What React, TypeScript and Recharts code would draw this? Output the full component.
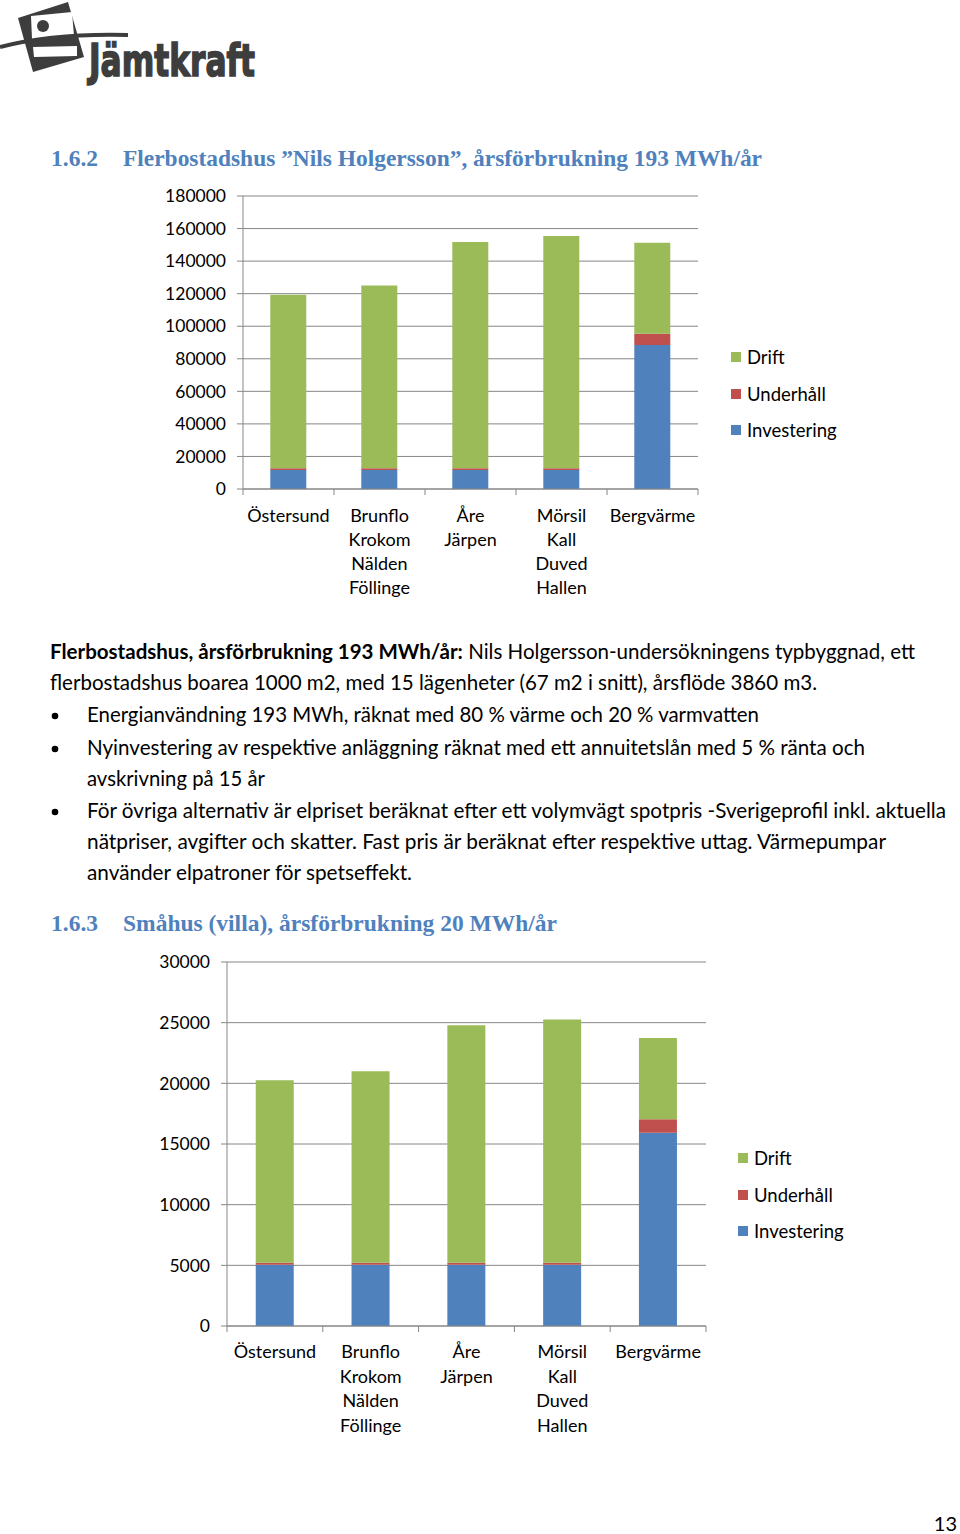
import React from 'react';
import { BarChart, Bar, XAxis, YAxis, CartesianGrid, Legend } from 'recharts';

// ---------- Data ----------
const categories = ['Östersund', 'Brunflo Krokom Nälden Föllinge', 'Åre Järpen', 'Mörsil Kall Duved Hallen', 'Bergvärme'];
const categoryLines = [
  ['Östersund'],
  ['Brunflo', 'Krokom', 'Nälden', 'Föllinge'],
  ['Åre', 'Järpen'],
  ['Mörsil', 'Kall', 'Duved', 'Hallen'],
  ['Bergvärme'],
];
const legendOrder = ['Drift', 'Underhåll', 'Investering'];

const flerInvestering = [11700, 11700, 11700, 11700, 88500];
const flerUnderhall = [1000, 1000, 1000, 1000, 6800];
const flerDrift = [106600, 112300, 139000, 142700, 56000];
const flerTicks = [0, 20000, 40000, 60000, 80000, 100000, 120000, 140000, 160000, 180000];

const villaInvestering = [5050, 5050, 5050, 5050, 15930];
const villaUnderhall = [170, 170, 170, 170, 1100];
const villaDrift = [15030, 15770, 19560, 20050, 6700];
const villaTicks = [0, 5000, 10000, 15000, 20000, 25000, 30000];

const COLORS = { Investering: '#4F81BD', Underhåll: '#C0504D', Drift: '#9BBB59' };
const AXIS = '#868686';
const FONT = 'Lato, "Open Sans", sans-serif';
const HEAD_COLOR = '#4F81BD';

const buildData = (inv: number[], und: number[], dr: number[]) =>
  categories.map((c, i) => ({ name: c, Investering: inv[i], Underhåll: und[i], Drift: dr[i] }));

const flerData = buildData(flerInvestering, flerUnderhall, flerDrift);
const villaData = buildData(villaInvestering, villaUnderhall, villaDrift);

// ---------- Custom axis tick ----------
const makeXTick = (firstOffset: number, lineH: number) => (props: any) => {
  const { x, y, payload } = props;
  const idx = categories.indexOf(payload.value);
  const lines = categoryLines[idx] || [String(payload.value)];
  const half = payload.offset || 0;
  const isLast = idx === categories.length - 1;
  return (
    <g>
      <line x1={x - half} x2={x - half} y1={y} y2={y + 6} stroke={AXIS} strokeWidth={1} />
      {isLast && <line x1={x + half} x2={x + half} y1={y} y2={y + 6} stroke={AXIS} strokeWidth={1} />}
      <text x={x} y={y + firstOffset} textAnchor="middle" fontSize={18} fontFamily={FONT} fill="#000">
        {lines.map((l, i) => (
          <tspan key={i} x={x} dy={i === 0 ? 0 : lineH}>{l}</tspan>
        ))}
      </text>
    </g>
  );
};

const legendContent = (props: any) => {
  const payload = props.payload || [];
  const items = legendOrder
    .map((n) => payload.find((p: any) => p.value === n || p.dataKey === n))
    .filter(Boolean);
  return (
    <div style={{ fontFamily: FONT, fontSize: 18.5, color: '#000' }}>
      {items.map((it: any) => (
        <div key={it.value} style={{ display: 'flex', alignItems: 'center', height: 36.5 }}>
          <span style={{ display: 'inline-block', width: 10, height: 10, background: it.color, marginRight: 6 }} />
          <span>{it.value}</span>
        </div>
      ))}
    </div>
  );
};

type ChartProps = {
  data: any[];
  ticks: number[];
  width: number;
  height: number;
  margin: any;
  yWidth: number;
  xHeight: number;
  firstOffset: number;
  lineH: number;
  legendLeft: number;
  legendTop: number;
};

const StackChart = (p: ChartProps) => (
  <BarChart width={p.width} height={p.height} data={p.data} margin={p.margin} barCategoryGap="30%">
    <CartesianGrid vertical={false} stroke={AXIS} strokeWidth={1} />
    <XAxis
      dataKey="name"
      interval={0}
      height={p.xHeight}
      tickSize={0}
      tickMargin={0}
      tickLine={false}
      axisLine={{ stroke: AXIS }}
      tick={makeXTick(p.firstOffset, p.lineH)}
    />
    <YAxis
      width={p.yWidth}
      domain={[0, p.ticks[p.ticks.length - 1]]}
      ticks={p.ticks}
      interval={0}
      tickSize={6}
      tickMargin={11}
      axisLine={{ stroke: AXIS }}
      tickLine={{ stroke: AXIS }}
      tick={{ fontSize: 17.5, fontFamily: FONT, fill: '#000' }}
    />
    <Legend
      layout="vertical"
      align="center"
      verticalAlign="middle"
      content={legendContent}
      wrapperStyle={{ position: 'absolute', left: p.legendLeft, top: p.legendTop, width: 140 }}
    />
    <Bar dataKey="Investering" name="Investering" stackId="a" fill={COLORS.Investering} isAnimationActive={false} />
    <Bar dataKey="Underhåll" name="Underhåll" stackId="a" fill={COLORS['Underhåll']} isAnimationActive={false} />
    <Bar dataKey="Drift" name="Drift" stackId="a" fill={COLORS.Drift} isAnimationActive={false} />
  </BarChart>
);

// ---------- Page text ----------
const bodyLines = [
  { x: 50, y: 659, len: 865, bold: 'Flerbostadshus, årsförbrukning 193 MWh/år:', text: ' Nils Holgersson-undersökningens typbyggnad, ett' },
  { x: 50, y: 690, len: 767, text: 'flerbostadshus boarea 1000 m2, med 15 lägenheter (67 m2 i snitt), årsflöde 3860 m3.' },
  { x: 87, y: 722, len: 672, text: 'Energianvändning 193 MWh, räknat med 80 % värme och 20 % varmvatten', bullet: true },
  { x: 87, y: 755, len: 778, text: 'Nyinvestering av respektive anläggning räknat med ett annuitetslån med 5 % ränta och', bullet: true },
  { x: 87, y: 786, len: 178, text: 'avskrivning på 15 år' },
  { x: 87, y: 818, len: 859, text: 'För övriga alternativ är elpriset beräknat efter ett volymvägt spotpris -Sverigeprofil inkl. aktuella', bullet: true },
  { x: 87, y: 849, len: 799, text: 'nätpriser, avgifter och skatter. Fast pris är beräknat efter respektive uttag. Värmepumpar' },
  { x: 87, y: 880, len: 325, text: 'använder elpatroner för spetseffekt.' },
];

const PageText = () => (
  <svg width={960} height={1534} style={{ position: 'absolute', left: 0, top: 0, pointerEvents: 'none' }}>
    {/* Logo */}
    <g>
      <polygon points="18,18 68,2 84,57 33,72" fill="#3d3d3d" />
      <polygon points="31,16 72,12 74,36 32,39" fill="#fff" />
      <circle cx={43} cy={26} r={6} fill="#3d3d3d" />
      <polygon points="33,47 77,46 77,56 34,57" fill="#fff" />
      <path d="M0,47 Q55,33 128,35" stroke="#3d3d3d" strokeWidth={4} fill="none" />
      <text x={89} y={76} fontFamily='"DejaVu Sans", sans-serif' fontWeight="bold" fontSize={44} fill="#3d3d3d" stroke="#3d3d3d" strokeWidth={1.6} textLength={166} lengthAdjust="spacingAndGlyphs">Jämtkraft</text>
    </g>

    {/* Headings */}
    <g fontFamily='"Liberation Serif", "DejaVu Serif", serif' fontWeight="bold" fontSize={23} fill={HEAD_COLOR}>
      <text x={51} y={166} textLength={47} lengthAdjust="spacingAndGlyphs">1.6.2</text>
      <text x={123} y={166} textLength={639} lengthAdjust="spacingAndGlyphs">Flerbostadshus ”Nils Holgersson”, årsförbrukning 193 MWh/år</text>
      <text x={51} y={931} textLength={47} lengthAdjust="spacingAndGlyphs">1.6.3</text>
      <text x={123} y={931} textLength={434} lengthAdjust="spacingAndGlyphs">Småhus (villa), årsförbrukning 20 MWh/år</text>
    </g>

    {/* Body */}
    <g fontFamily={FONT} fontSize={20.5} fill="#000">
      {bodyLines.map((l, i) => (
        <React.Fragment key={i}>
          {l.bullet && <circle cx={55} cy={l.y - 6} r={3.3} fill="#000" />}
          <text x={l.x} y={l.y} textLength={l.len} lengthAdjust="spacingAndGlyphs">
            {l.bold && <tspan fontWeight="bold">{l.bold}</tspan>}
            <tspan>{l.text}</tspan>
          </text>
        </React.Fragment>
      ))}
      <text x={957} y={1531} fontSize={20} textAnchor="end">13</text>
    </g>
  </svg>
);

export default function App() {
  return (
    <div style={{ position: 'absolute', left: 0, top: 0, width: 960, height: 1534, background: '#fff', overflow: 'hidden' }}>
      <PageText />
      <div style={{ position: 'absolute', left: 140, top: 180 }}>
        <StackChart
          data={flerData}
          ticks={flerTicks}
          width={720}
          height={440}
          margin={{ top: 16, right: 162, bottom: 11, left: 0 }}
          yWidth={103}
          xHeight={120}
          firstOffset={33}
          lineH={24}
          legendLeft={591}
          legendTop={159}
        />
      </div>
      <div style={{ position: 'absolute', left: 140, top: 946 }}>
        <StackChart
          data={villaData}
          ticks={villaTicks}
          width={720}
          height={500}
          margin={{ top: 16, right: 154, bottom: 10, left: 0 }}
          yWidth={87}
          xHeight={110}
          firstOffset={32}
          lineH={24.5}
          legendLeft={598}
          legendTop={194}
        />
      </div>
    </div>
  );
}
